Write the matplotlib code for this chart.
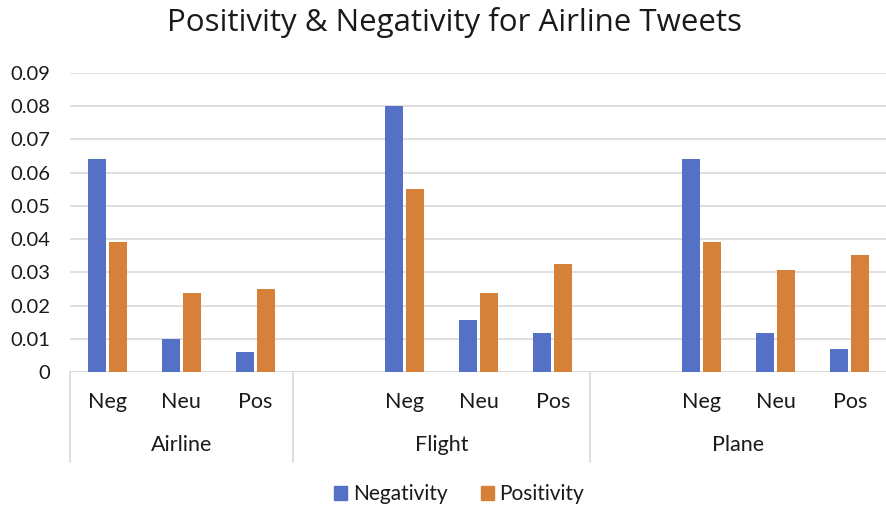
import matplotlib
matplotlib.use("Agg")
import matplotlib.pyplot as plt
from matplotlib.patches import Patch

groups = ["Airline", "Flight", "Plane"]
sentiments = ["Neg", "Neu", "Pos"]
negativity = [0.064, 0.010, 0.006, 0.080, 0.0157, 0.0116, 0.064, 0.0116, 0.0069]
positivity = [0.039, 0.0238, 0.025, 0.055, 0.0238, 0.0326, 0.039, 0.0307, 0.0351]
yticks = [0, 0.01, 0.02, 0.03, 0.04, 0.05, 0.06, 0.07, 0.08, 0.09]

blue = "#5571c5"
orange = "#d6813a"
grid = "#d9d9d9"
text_col = "#1a1a1a"

# Airline has three slots; Flight and Plane each start with an empty slot
slots = []
bounds = [0]
pos = 0
for gi, g in enumerate(groups):
    if gi > 0:
        pos += 1
    for s in sentiments:
        slots.append(pos + 0.5)
        pos += 1
    bounds.append(pos)

fig = plt.figure(figsize=(8.87, 5.08), dpi=100)
ax = fig.add_axes([70 / 887, 1 - 372 / 508, 1 - 70 / 887, (372 - 73) / 508])

w = 0.242
off = 0.141
ax.bar([x - off for x in slots], negativity, width=w, color=blue, zorder=3)
ax.bar([x + off for x in slots], positivity, width=w, color=orange, zorder=3)

ax.set_xlim(0, bounds[-1])
ax.set_ylim(0, 0.09)
ax.set_yticks(yticks)
ax.set_yticklabels(["0" if v == 0 else "%.2f" % v for v in yticks],
                   fontsize=14.5, color=text_col, family="Lato")
ax.tick_params(axis="y", length=0, pad=14)
ax.set_xticks([])
ax.yaxis.grid(True, color=grid, linewidth=1.2, zorder=0)
for sp in ax.spines.values():
    sp.set_visible(False)
ax.axhline(0, color=grid, linewidth=1.2, zorder=2)

# category separators below the axis
xt = ax.get_xaxis_transform()
for b in bounds[:-1]:
    ax.plot([b, b], [0, -0.30], color=grid, linewidth=1.2, transform=xt, clip_on=False)

for i, x in enumerate(slots):
    ax.text(x, -0.10, sentiments[i % 3], transform=xt, ha="center", va="center",
            fontsize=15.5, color=text_col, family="Lato")
for gi, g in enumerate(groups):
    mid = (bounds[gi] + bounds[gi + 1]) / 2
    ax.text(mid, -0.245, g, transform=xt, ha="center", va="center",
            fontsize=15.5, color=text_col, family="Lato")

fig.text(454 / 887, 1 - 22 / 508, "Positivity & Negativity for Airline Tweets",
         ha="center", va="center", fontsize=22.5, color=text_col, family="Open Sans")

handles = [Patch(color=blue, label="Negativity"), Patch(color=orange, label="Positivity")]
leg = fig.legend(handles=handles, loc="center", bbox_to_anchor=(459 / 887, 1 - 494 / 508),
                 ncol=2, frameon=False, handlelength=0.65, handleheight=0.65,
                 handletextpad=0.25, columnspacing=1.6,
                 prop={"family": "Lato", "size": 15})
for t in leg.get_texts():
    t.set_color(text_col)

fig.savefig("out.png", dpi=100)
